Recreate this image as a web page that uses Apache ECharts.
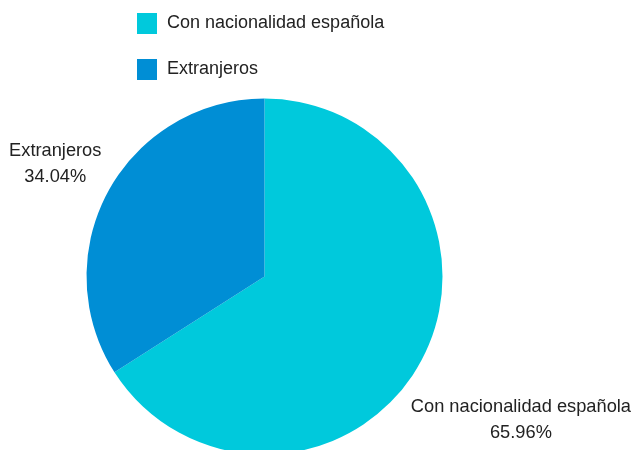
<!DOCTYPE html>
<html>
<head>
<meta charset="utf-8">
<style>
  html, body { margin: 0; padding: 0; background: #fff; }
  #chart { width: 631px; height: 450px; }
</style>
<script src="https://cdn.jsdelivr.net/npm/echarts@6/dist/echarts.min.js"></script>
</head>
<body>
<div id="chart"></div>
<script>
  const categories = ['Con nacionalidad española', 'Extranjeros'];
  const shares = [65.96, 34.04];
  const colors = ['#00C9DC', '#008ED5'];

  const CX = 264.5, CY = 276.5, R = 178, GAP = 8;
  const W = 631;
  const TEXT_SHIFT = 3; // labels sit a little lower than their box corner

  const total = shares.reduce((a, b) => a + b, 0);

  // mid angle (radians, screen coords) of slice i, clockwise from 12 o'clock
  function midAngle(i) {
    let before = 0;
    for (let k = 0; k < i; k++) before += shares[k];
    const frac = (before + shares[i] / 2) / total;
    return -Math.PI / 2 + frac * Math.PI * 2;
  }

  const chart = echarts.init(document.getElementById('chart'), null, { renderer: 'canvas' });

  chart.setOption({
    backgroundColor: '#fff',
    textStyle: { fontFamily: "'Liberation Sans', Arial, sans-serif", color: '#222' },
    legend: {
      orient: 'vertical',
      left: 132,
      top: 8,
      itemWidth: 20,
      itemHeight: 21,
      itemGap: 25,
      icon: 'rect',
      selectedMode: false,
      data: categories,
      textStyle: { fontSize: 18, color: '#222', padding: [0, 0, 0, 5] },
    },
    series: [{
      type: 'pie',
      center: [CX, CY],
      radius: R,
      startAngle: 90,
      clockwise: true,
      silent: true,
      avoidLabelOverlap: false,
      data: categories.map((c, i) => ({ name: c, value: shares[i], itemStyle: { color: colors[i] } })),
      label: {
        show: true,
        position: 'outside',
        overflow: 'none',
        formatter: '{a|{b}}\n{a|{d}%}',
        rich: {
          a: { fontSize: 18.25, lineHeight: 26, color: '#222', align: 'center', fontFamily: "'Liberation Sans', Arial, sans-serif" },
        },
      },
      labelLine: { show: false },
      labelLayout: (p) => {
        const a = midAngle(p.dataIndex);
        const d = R + GAP;
        const dx = Math.cos(a), dy = Math.sin(a);
        let x = CX + d * dx;
        let y = CY + d * dy;
        const w = p.labelRect.width;
        // slide along the circle if the label would leave the canvas
        if (dx > 0 && x + w > W) {
          x = W - w;
          y = CY + Math.sign(dy) * Math.sqrt(Math.max(0, d * d - (x - CX) * (x - CX)));
        } else if (dx < 0 && x - w < 0) {
          x = w;
          y = CY + Math.sign(dy) * Math.sqrt(Math.max(0, d * d - (x - CX) * (x - CX)));
        }
        return {
          x, y: y + TEXT_SHIFT,
          align: dx < 0 ? 'right' : 'left',
          verticalAlign: dy < 0 ? 'bottom' : 'top',
        };
      },
    }],
  });
</script>
</body>
</html>
